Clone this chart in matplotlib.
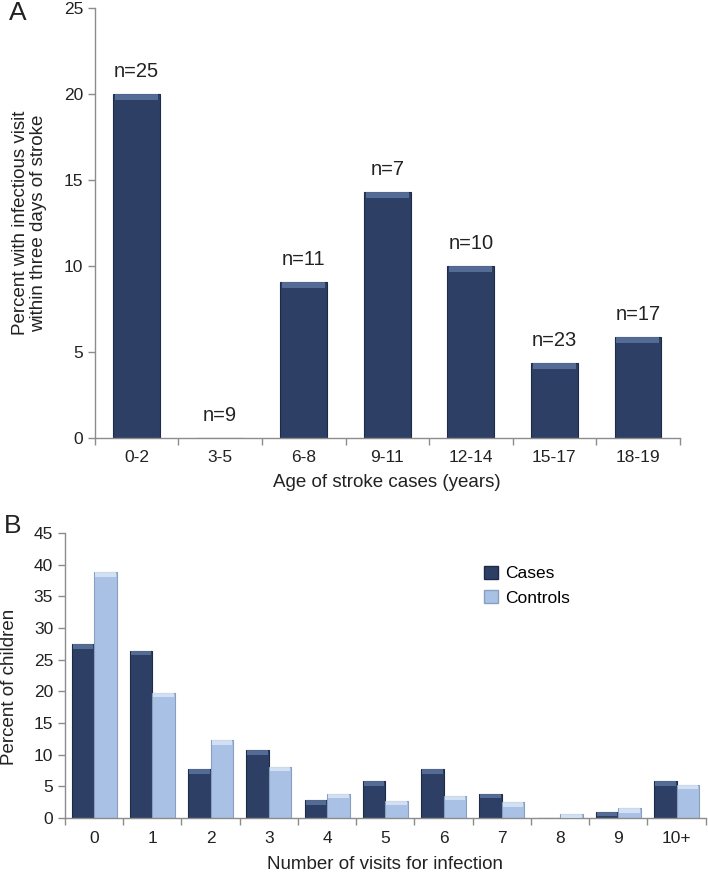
import matplotlib
matplotlib.use("Agg")
import matplotlib.pyplot as plt
import numpy as np

plt.rcParams["font.family"] = ["Liberation Sans", "DejaVu Sans"]

# Panel A
age_groups = ["0-2", "3-5", "6-8", "9-11", "12-14", "15-17", "18-19"]
pct_infect = [20.0, 0.0, 9.09, 14.29, 10.0, 4.35, 5.88]
n_labels = ["n=25", "n=9", "n=11", "n=7", "n=10", "n=23", "n=17"]

# Panel B
visits = ["0", "1", "2", "3", "4", "5", "6", "7", "8", "9", "10+"]
cases = [27.4, 26.4, 7.7, 10.7, 2.8, 5.8, 7.7, 3.8, 0.0, 0.95, 5.8]
controls = [38.8, 19.8, 12.3, 8.1, 3.8, 2.7, 3.5, 2.5, 0.6, 1.5, 5.2]

DARK = "#2d3f64"
DARK_TOP = "#5f77a3"
LIGHT = "#a9c1e4"
LIGHT_TOP = "#dde8f7"
AXC = "#8c8c8c"
TXT = "#222222"


def bevel_bars(ax, x, vals, width, color, top, edge, bevel):
    vals = np.asarray(vals, float)
    ax.bar(x, vals, width=width, color=color, edgecolor=edge, linewidth=0.8, zorder=2)
    cap = np.minimum(vals, bevel)
    ax.bar(x, cap, width=width * 0.92, bottom=vals - cap, color=top,
           linewidth=0, zorder=3, alpha=0.8)


def style_axes(ax):
    for side in ("top", "right"):
        ax.spines[side].set_visible(False)
    for side in ("left", "bottom"):
        ax.spines[side].set_color(AXC)
        ax.spines[side].set_linewidth(1.0)
    ax.tick_params(colors=AXC, labelcolor=TXT, labelsize=12.5, length=5, width=1.0)


fig = plt.figure(figsize=(7.08, 8.73), dpi=100)

# ---- A
axA = fig.add_axes([0.134, 0.4983, 0.826, 0.4925])
xa = np.arange(len(age_groups))
bevel_bars(axA, xa, pct_infect, 0.56, DARK, DARK_TOP, "#1e2b47", 0.35)
for xi, v, lab in zip(xa, pct_infect, n_labels):
    axA.text(xi, v + 0.75, lab, ha="center", va="bottom", fontsize=14.5, color=TXT)
axA.set_xlim(-0.5, len(age_groups) - 0.5)
axA.set_ylim(0, 25)
axA.set_yticks(np.arange(0, 26, 5))
axA.set_xticks(np.arange(len(age_groups) + 1) - 0.5, minor=False)
axA.set_xticklabels([])
axA.set_xticks(xa, minor=True)
axA.set_xticklabels(age_groups, minor=True)
style_axes(axA)
axA.tick_params(axis="x", which="minor", length=0, pad=9, labelsize=12.5, labelcolor=TXT)
axA.set_xlabel("Age of stroke cases (years)", fontsize=13.5, color=TXT, labelpad=6)
axA.set_ylabel("Percent with infectious visit\nwithin three days of stroke",
               fontsize=13.5, color=TXT, labelpad=12, linespacing=1.1)
fig.text(0.012, 0.985, "A", fontsize=19, color=TXT, va="center")

# ---- B
axB = fig.add_axes([0.0918, 0.063, 0.905, 0.3265])
xb = np.arange(len(visits))
w = 0.385
bevel_bars(axB, xb - w / 2, cases, w, DARK, DARK_TOP, "#1e2b47", 0.7)
bevel_bars(axB, xb + w / 2, controls, w, LIGHT, LIGHT_TOP, "#8a9fc0", 0.7)
axB.set_xlim(-0.5, len(visits) - 0.5)
axB.set_ylim(0, 45)
axB.set_yticks(np.arange(0, 46, 5))
axB.set_xticks(np.arange(len(visits) + 1) - 0.5)
axB.set_xticklabels([])
axB.set_xticks(xb, minor=True)
axB.set_xticklabels(visits, minor=True)
style_axes(axB)
axB.tick_params(axis="x", which="minor", length=0, pad=9, labelsize=12.5, labelcolor=TXT)
axB.set_xlabel("Number of visits for infection", fontsize=13.5, color=TXT)
axB.xaxis.set_label_coords(0.5, -0.135)
axB.set_ylabel("Percent of children", fontsize=13.5, color=TXT)
axB.yaxis.set_label_coords(-0.074, 0.46)
h1 = plt.Rectangle((0, 0), 1, 1, facecolor=DARK, edgecolor="#1e2b47")
h2 = plt.Rectangle((0, 0), 1, 1, facecolor=LIGHT, edgecolor="#8a9fc0")
axB.legend([h1, h2], ["Cases", "Controls"], loc="upper left",
           bbox_to_anchor=(0.63, 0.94), frameon=False, fontsize=12.5,
           handlelength=0.8, handleheight=0.8, handletextpad=0.4, labelspacing=0.5)
fig.text(0.006, 0.397, "B", fontsize=19, color=TXT, va="center")

fig.savefig("out.png", dpi=100, facecolor="white")
